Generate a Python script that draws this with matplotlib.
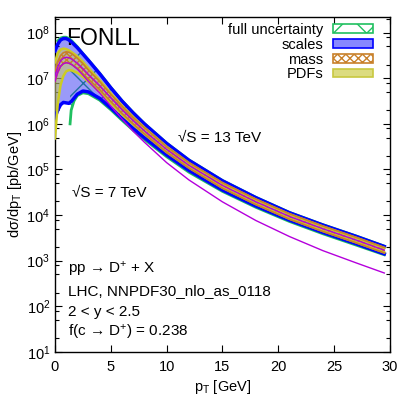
import matplotlib
matplotlib.use("Agg")
import matplotlib.pyplot as plt
import numpy as np
from matplotlib.patches import Patch
from matplotlib.ticker import LogLocator, MultipleLocator

plt.rcParams['font.family'] = ['Liberation Sans', 'DejaVu Sans']
plt.rcParams['mathtext.fontset'] = 'custom'
plt.rcParams['mathtext.rm'] = 'Liberation Sans'
plt.rcParams['mathtext.it'] = 'Liberation Sans:italic'
plt.rcParams['hatch.linewidth'] = 1.0

# pT grid (GeV) and log10 of dsigma/dpT [pb/GeV]
pt = [0, 0.25, 0.5, 0.75, 1, 1.25, 1.5, 2, 2.5, 3, 4, 5, 6, 7, 8, 10, 12, 15, 18, 21, 24, 27, 29.5]
central_13 = [7.05, 7.25, 7.38, 7.44, 7.46, 7.45, 7.42, 7.33, 7.21, 7.08, 6.84, 6.57, 6.31,
              6.07, 5.85, 5.44, 5.09, 4.65, 4.29, 3.97, 3.70, 3.45, 3.23]
central_7 = [6.93, 7.13, 7.26, 7.32, 7.34, 7.33, 7.30, 7.20, 7.07, 6.93, 6.68, 6.39, 6.11,
             5.84, 5.60, 5.15, 4.77, 4.29, 3.88, 3.53, 3.22, 2.95, 2.73]
scale_hi = [7.60, 7.75, 7.84, 7.87, 7.87, 7.84, 7.79, 7.67, 7.53, 7.39, 7.10, 6.79, 6.50,
            6.24, 6.00, 5.57, 5.20, 4.75, 4.38, 4.05, 3.78, 3.53, 3.31]
scale_lo = [6.14, 6.30, 6.42, 6.47, 6.46, 6.45, 6.50, 6.65, 6.72, 6.70, 6.56, 6.35, 6.12,
            5.90, 5.70, 5.32, 4.98, 4.55, 4.20, 3.89, 3.62, 3.37, 3.15]
mass_hi = [7.17, 7.37, 7.50, 7.56, 7.58, 7.57, 7.54, 7.44, 7.32, 7.18, 6.93, 6.65, 6.39,
           6.14, 5.92, 5.50, 5.15, 4.71, 4.35, 4.03, 3.76, 3.51, 3.29]
mass_lo = [6.93, 7.13, 7.26, 7.32, 7.34, 7.33, 7.30, 7.22, 7.10, 6.98, 6.75, 6.49, 6.23,
           6.00, 5.78, 5.38, 5.03, 4.59, 4.23, 3.91, 3.64, 3.39, 3.17]
pdf_hi = [7.35, 7.55, 7.63, 7.65, 7.64, 7.61, 7.57, 7.48, 7.36, 7.22, 6.96, 6.67, 6.40,
          6.15, 5.92, 5.50, 5.14, 4.70, 4.34, 4.02, 3.75, 3.50, 3.28]
pdf_lo = [5.68, 6.45, 6.85, 7.05, 7.15, 7.18, 7.17, 7.12, 7.03, 6.92, 6.70, 6.46, 6.21,
          5.99, 5.78, 5.38, 5.04, 4.60, 4.24, 3.92, 3.65, 3.40, 3.18]

# full uncertainty band edges
pt_full_hi = [0.25, 0.5, 0.75, 1, 1.25, 1.5, 2, 2.5, 3, 4, 5, 6, 7, 8, 10, 12, 15, 18, 21, 24, 27, 29.5]
full_hi = [7.82, 7.88, 7.90, 7.90, 7.87, 7.82, 7.69, 7.54, 7.40, 7.11, 6.80, 6.51,
           6.25, 6.01, 5.58, 5.21, 4.76, 4.39, 4.06, 3.79, 3.54, 3.32]
pt_full_lo = [1.35, 1.45, 1.7, 2, 2.5, 3, 4, 5, 6, 7, 8, 10, 12, 15, 18, 21, 24, 27, 29.5]
full_lo = [6.00, 6.30, 6.50, 6.62, 6.68, 6.66, 6.52, 6.31, 6.08, 5.86, 5.66, 5.28,
           4.94, 4.52, 4.17, 3.86, 3.59, 3.34, 3.13]

pt = np.array(pt)
p = lambda a: 10 ** np.array(a)

fig = plt.figure(figsize=(4.15, 4.15), dpi=100)
ax = fig.add_axes([0.1325, 0.152, 0.807, 0.807])

blue = '#0000ff'
green = '#20c060'
orange = '#c8802a'
yellow = '#cccc22'
magenta = '#b400dc'

ax.fill_between(pt, p(scale_lo), p(scale_hi), facecolor='#9a9af8', linewidth=0, zorder=1)
hi_on_lo = np.interp(pt_full_lo, pt_full_hi, full_hi)
ax.fill_between(pt_full_lo, p(full_lo), p(hi_on_lo), facecolor='none', edgecolor='#2070a0',
                hatch='x', linewidth=0, zorder=2)
ax.fill_between(pt, p(pdf_lo), p(pdf_hi), facecolor='#c8c870', alpha=0.6, linewidth=0, zorder=3)
ax.fill_between(pt, p(mass_lo), p(mass_hi), facecolor='none', edgecolor=orange,
                hatch='xxxxx', linewidth=0, zorder=4)

ax.plot(pt_full_hi, p(full_hi), color=green, lw=2, zorder=5)
ax.plot(pt_full_lo, p(full_lo), color=green, lw=2, zorder=5)
ax.plot(pt, p(scale_hi), color=blue, lw=2.5, zorder=6)
ax.plot(pt, p(scale_lo), color=blue, lw=2.5, zorder=6)
ax.plot(pt, p(pdf_hi), color=yellow, lw=1.8, zorder=7)
ax.plot(pt, p(pdf_lo), color=yellow, lw=1.8, zorder=7)
ax.plot(pt, p(mass_hi), color=orange, lw=1.2, zorder=8)
ax.plot(pt, p(mass_lo), color=orange, lw=1.2, zorder=8)
ax.plot(pt, p(central_13), color=magenta, lw=1, zorder=9)
ax.plot(pt, p(central_7), color=magenta, lw=1, zorder=9)

ax.set_yscale('log')
ax.set_xlim(0, 30)
ax.set_ylim(10, 2.2e8)
ax.xaxis.set_major_locator(MultipleLocator(5))
ax.yaxis.set_major_locator(LogLocator(base=10, numticks=20))
ax.yaxis.set_minor_locator(LogLocator(base=10, subs=(2, 5, 8), numticks=20))
ax.yaxis.set_minor_formatter(plt.NullFormatter())
ax.tick_params(which='both', direction='in', top=True, right=True, labelsize=10.5)
ax.tick_params(which='major', length=5, width=0.8)
ax.tick_params(which='minor', length=3, width=0.8)
ax.tick_params(axis='x', pad=6)
for s in ax.spines.values():
    s.set_linewidth(1)

ax.set_xlabel('p$_{\\mathrm{T}}$ [GeV]', fontsize=10.5, labelpad=3)
ax.set_ylabel('d\u03c3/dp$_{\\mathrm{T}}$ [pb/GeV]', fontsize=10.5, labelpad=2)

ax.text(0.033, 0.935, 'FONLL', transform=ax.transAxes, fontsize=16.5, va='center')
ax.text(0.367, 0.64, '\u221aS = 13 TeV', transform=ax.transAxes, fontsize=11, va='center')
ax.text(0.05, 0.475, '\u221aS = 7 TeV', transform=ax.transAxes, fontsize=11, va='center')
info = ['pp \u2192 D$^{+}$ + X', 'LHC, NNPDF30_nlo_as_0118', '2 < y < 2.5',
        'f(c \u2192 D$^{+}$) = 0.238']
for i, t in enumerate(info):
    ax.text(0.04, 0.245 - i * 0.0625, t, transform=ax.transAxes, fontsize=11, va='center')

handles = [Patch(facecolor='white', edgecolor=green, hatch='x', lw=1.2),
           Patch(facecolor='#8888ff', edgecolor=blue, lw=1.2),
           Patch(facecolor='white', edgecolor=orange, hatch='xxxx', lw=1.2),
           Patch(facecolor='#dcdc80', edgecolor='#c8c840', lw=1.2)]
labels = ['full uncertainty', 'scales', 'mass', 'PDFs']
ax.legend(handles, labels, loc='upper right', bbox_to_anchor=(0.951, 0.982), frameon=False,
          markerfirst=False, fontsize=10.5, handlelength=2.8, handleheight=0.55,
          labelspacing=0.05, handletextpad=0.65, borderaxespad=0, borderpad=0)

fig.savefig('out.png', dpi=100)
